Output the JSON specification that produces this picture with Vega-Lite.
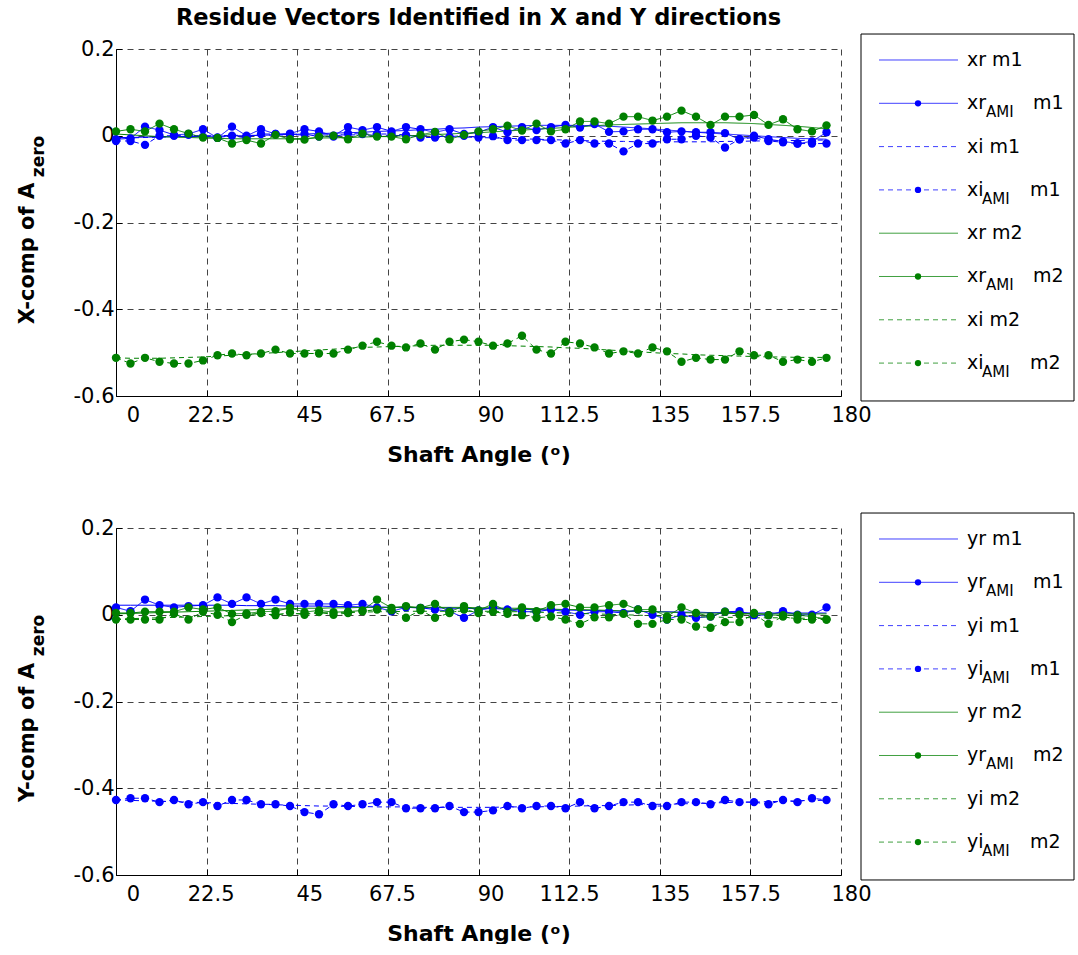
{
  "$schema": "https://vega.github.io/schema/vega-lite/v6.json",
  "background": "white",
  "padding": {"left": 16, "top": 6, "right": 0, "bottom": 0},
  "config": {
    "font": "DejaVu Sans",
    "view": {"stroke": null},
    "axis": {"labelFont": "DejaVu Sans", "labelFontSize": 21, "labelColor": "black", "titleFont": "DejaVu Sans", "titleFontSize": 22, "titleFontWeight": "bold", "titleColor": "black", "domainColor": "black", "domainWidth": 1, "tickColor": "black", "gridColor": "#444444", "gridDash": [6, 5], "gridOpacity": 1, "gridWidth": 1}
  },
  "datasets": {
    "top": [
      {"x":0,"r1":-0.004,"rA1":-0.008,"i1":-0.006,"iA1":-0.012,"r2":0.004,"rA2":0.010,"i2":-0.512,"iA2":-0.512},
      {"x":3.6,"r1":-0.004,"rA1":-0.006,"i1":-0.005,"iA1":-0.012,"r2":0.002,"rA2":0.015,"i2":-0.513,"iA2":-0.525},
      {"x":7.2,"r1":-0.003,"rA1":0.021,"i1":-0.004,"iA1":-0.021,"r2":0.000,"rA2":0.010,"i2":-0.513,"iA2":-0.512},
      {"x":10.8,"r1":-0.003,"rA1":0.013,"i1":-0.003,"iA1":0.000,"r2":-0.002,"rA2":0.028,"i2":-0.513,"iA2":-0.521},
      {"x":14.4,"r1":-0.002,"rA1":0.002,"i1":-0.002,"iA1":0.000,"r2":-0.003,"rA2":0.015,"i2":-0.512,"iA2":-0.525},
      {"x":18,"r1":-0.002,"rA1":0.004,"i1":-0.001,"iA1":0.002,"r2":-0.004,"rA2":0.005,"i2":-0.511,"iA2":-0.525},
      {"x":21.6,"r1":-0.001,"rA1":0.015,"i1":0.000,"iA1":-0.002,"r2":-0.005,"rA2":-0.004,"i2":-0.510,"iA2":-0.518},
      {"x":25.2,"r1":-0.001,"rA1":-0.005,"i1":0.000,"iA1":-0.004,"r2":-0.006,"rA2":-0.005,"i2":-0.508,"iA2":-0.506},
      {"x":28.8,"r1":0.000,"rA1":0.021,"i1":0.001,"iA1":0.000,"r2":-0.007,"rA2":-0.018,"i2":-0.506,"iA2":-0.502},
      {"x":32.4,"r1":0.000,"rA1":0.000,"i1":0.001,"iA1":-0.005,"r2":-0.007,"rA2":-0.010,"i2":-0.504,"iA2":-0.506},
      {"x":36,"r1":0.001,"rA1":0.015,"i1":0.001,"iA1":0.004,"r2":-0.007,"rA2":-0.018,"i2":-0.502,"iA2":-0.502},
      {"x":39.6,"r1":0.002,"rA1":0.004,"i1":0.002,"iA1":0.004,"r2":-0.007,"rA2":0.002,"i2":-0.500,"iA2":-0.493},
      {"x":43.2,"r1":0.003,"rA1":0.005,"i1":0.002,"iA1":0.003,"r2":-0.007,"rA2":-0.008,"i2":-0.498,"iA2":-0.502},
      {"x":46.8,"r1":0.004,"rA1":0.015,"i1":0.002,"iA1":0.004,"r2":-0.006,"rA2":-0.009,"i2":-0.496,"iA2":-0.502},
      {"x":50.4,"r1":0.005,"rA1":0.010,"i1":0.002,"iA1":-0.002,"r2":-0.005,"rA2":-0.002,"i2":-0.494,"iA2":-0.502},
      {"x":54,"r1":0.006,"rA1":0.000,"i1":0.002,"iA1":-0.002,"r2":-0.005,"rA2":0.000,"i2":-0.492,"iA2":-0.502},
      {"x":57.6,"r1":0.007,"rA1":0.020,"i1":0.002,"iA1":0.005,"r2":-0.004,"rA2":-0.008,"i2":-0.490,"iA2":-0.493},
      {"x":61.2,"r1":0.008,"rA1":0.013,"i1":0.002,"iA1":0.004,"r2":-0.003,"rA2":0.005,"i2":-0.488,"iA2":-0.484},
      {"x":64.8,"r1":0.010,"rA1":0.020,"i1":0.001,"iA1":0.004,"r2":-0.002,"rA2":-0.002,"i2":-0.487,"iA2":-0.475},
      {"x":68.4,"r1":0.011,"rA1":0.010,"i1":0.001,"iA1":0.004,"r2":-0.001,"rA2":-0.002,"i2":-0.486,"iA2":-0.484},
      {"x":72,"r1":0.012,"rA1":0.020,"i1":0.000,"iA1":0.002,"r2":0.000,"rA2":-0.008,"i2":-0.485,"iA2":-0.488},
      {"x":75.6,"r1":0.014,"rA1":0.015,"i1":0.000,"iA1":-0.004,"r2":0.001,"rA2":0.002,"i2":-0.484,"iA2":-0.479},
      {"x":79.2,"r1":0.015,"rA1":0.008,"i1":-0.001,"iA1":-0.004,"r2":0.003,"rA2":0.009,"i2":-0.483,"iA2":-0.493},
      {"x":82.8,"r1":0.017,"rA1":0.015,"i1":-0.002,"iA1":-0.002,"r2":0.004,"rA2":-0.008,"i2":-0.483,"iA2":-0.475},
      {"x":86.4,"r1":0.018,"rA1":0.004,"i1":-0.003,"iA1":0.000,"r2":0.006,"rA2":0.002,"i2":-0.483,"iA2":-0.470},
      {"x":90,"r1":0.020,"rA1":0.008,"i1":-0.004,"iA1":-0.004,"r2":0.007,"rA2":0.010,"i2":-0.483,"iA2":-0.475},
      {"x":93.6,"r1":0.021,"rA1":0.020,"i1":-0.005,"iA1":-0.001,"r2":0.009,"rA2":0.015,"i2":-0.483,"iA2":-0.484},
      {"x":97.2,"r1":0.022,"rA1":0.008,"i1":-0.006,"iA1":-0.010,"r2":0.011,"rA2":0.023,"i2":-0.484,"iA2":-0.479},
      {"x":100.8,"r1":0.023,"rA1":0.020,"i1":-0.007,"iA1":-0.010,"r2":0.013,"rA2":0.012,"i2":-0.485,"iA2":-0.461},
      {"x":104.4,"r1":0.024,"rA1":0.013,"i1":-0.008,"iA1":-0.010,"r2":0.015,"rA2":0.028,"i2":-0.486,"iA2":-0.493},
      {"x":108,"r1":0.024,"rA1":0.020,"i1":-0.009,"iA1":-0.010,"r2":0.017,"rA2":0.010,"i2":-0.487,"iA2":-0.502},
      {"x":111.6,"r1":0.024,"rA1":0.025,"i1":-0.010,"iA1":-0.018,"r2":0.019,"rA2":0.015,"i2":-0.489,"iA2":-0.475},
      {"x":115.2,"r1":0.024,"rA1":0.019,"i1":-0.011,"iA1":-0.010,"r2":0.021,"rA2":0.033,"i2":-0.490,"iA2":-0.479},
      {"x":118.8,"r1":0.023,"rA1":0.027,"i1":-0.012,"iA1":-0.018,"r2":0.023,"rA2":0.033,"i2":-0.492,"iA2":-0.488},
      {"x":122.4,"r1":0.022,"rA1":0.009,"i1":-0.013,"iA1":-0.018,"r2":0.025,"rA2":0.028,"i2":-0.494,"iA2":-0.502},
      {"x":126,"r1":0.020,"rA1":0.010,"i1":-0.013,"iA1":-0.036,"r2":0.026,"rA2":0.044,"i2":-0.496,"iA2":-0.497},
      {"x":129.6,"r1":0.018,"rA1":0.015,"i1":-0.014,"iA1":-0.018,"r2":0.027,"rA2":0.044,"i2":-0.498,"iA2":-0.502},
      {"x":133.2,"r1":0.016,"rA1":0.015,"i1":-0.014,"iA1":-0.018,"r2":0.028,"rA2":0.035,"i2":-0.500,"iA2":-0.488},
      {"x":136.8,"r1":0.013,"rA1":0.008,"i1":-0.014,"iA1":-0.008,"r2":0.029,"rA2":0.044,"i2":-0.502,"iA2":-0.497},
      {"x":140.4,"r1":0.011,"rA1":0.010,"i1":-0.014,"iA1":-0.008,"r2":0.030,"rA2":0.058,"i2":-0.503,"iA2":-0.521},
      {"x":144,"r1":0.008,"rA1":0.008,"i1":-0.014,"iA1":0.000,"r2":0.030,"rA2":0.044,"i2":-0.505,"iA2":-0.512},
      {"x":147.6,"r1":0.006,"rA1":0.008,"i1":-0.014,"iA1":-0.004,"r2":0.030,"rA2":0.025,"i2":-0.506,"iA2":-0.516},
      {"x":151.2,"r1":0.004,"rA1":0.006,"i1":-0.013,"iA1":-0.027,"r2":0.030,"rA2":0.044,"i2":-0.507,"iA2":-0.516},
      {"x":154.8,"r1":0.002,"rA1":-0.008,"i1":-0.013,"iA1":-0.008,"r2":0.029,"rA2":0.044,"i2":-0.508,"iA2":-0.497},
      {"x":158.4,"r1":0.000,"rA1":0.000,"i1":-0.012,"iA1":-0.004,"r2":0.028,"rA2":0.048,"i2":-0.509,"iA2":-0.506},
      {"x":162,"r1":-0.002,"rA1":-0.008,"i1":-0.012,"iA1":-0.012,"r2":0.026,"rA2":0.025,"i2":-0.510,"iA2":-0.506},
      {"x":165.6,"r1":-0.004,"rA1":-0.013,"i1":-0.011,"iA1":-0.015,"r2":0.024,"rA2":0.038,"i2":-0.510,"iA2":-0.521},
      {"x":169.2,"r1":-0.006,"rA1":-0.018,"i1":-0.011,"iA1":-0.018,"r2":0.022,"rA2":0.015,"i2":-0.511,"iA2":-0.516},
      {"x":172.8,"r1":-0.007,"rA1":-0.013,"i1":-0.010,"iA1":-0.018,"r2":0.019,"rA2":0.010,"i2":-0.511,"iA2":-0.521},
      {"x":176.4,"r1":-0.008,"rA1":0.008,"i1":-0.010,"iA1":-0.018,"r2":0.016,"rA2":0.024,"i2":-0.511,"iA2":-0.512}
    ],
    "bot": [
      {"x":0,"r1":0.022,"rA1":0.017,"i1":-0.427,"iA1":-0.427,"r2":0.002,"rA2":0.004,"i2":-0.010,"iA2":-0.011},
      {"x":3.6,"r1":0.022,"rA1":0.008,"i1":-0.428,"iA1":-0.423,"r2":0.003,"rA2":0.004,"i2":-0.009,"iA2":-0.011},
      {"x":7.2,"r1":0.022,"rA1":0.035,"i1":-0.429,"iA1":-0.423,"r2":0.004,"rA2":0.007,"i2":-0.008,"iA2":-0.011},
      {"x":10.8,"r1":0.022,"rA1":0.022,"i1":-0.430,"iA1":-0.432,"r2":0.005,"rA2":0.007,"i2":-0.007,"iA2":-0.011},
      {"x":14.4,"r1":0.022,"rA1":0.017,"i1":-0.431,"iA1":-0.427,"r2":0.006,"rA2":0.007,"i2":-0.006,"iA2":0.002},
      {"x":18,"r1":0.022,"rA1":0.020,"i1":-0.432,"iA1":-0.437,"r2":0.007,"rA2":0.017,"i2":-0.005,"iA2":-0.011},
      {"x":21.6,"r1":0.022,"rA1":0.022,"i1":-0.433,"iA1":-0.432,"r2":0.008,"rA2":0.012,"i2":-0.004,"iA2":0.007},
      {"x":25.2,"r1":0.022,"rA1":0.040,"i1":-0.434,"iA1":-0.441,"r2":0.009,"rA2":0.017,"i2":-0.003,"iA2":0.000},
      {"x":28.8,"r1":0.022,"rA1":0.025,"i1":-0.435,"iA1":-0.427,"r2":0.010,"rA2":0.002,"i2":-0.002,"iA2":-0.017},
      {"x":32.4,"r1":0.021,"rA1":0.040,"i1":-0.436,"iA1":-0.427,"r2":0.011,"rA2":0.003,"i2":-0.001,"iA2":0.000},
      {"x":36,"r1":0.021,"rA1":0.025,"i1":-0.437,"iA1":-0.437,"r2":0.012,"rA2":0.007,"i2":0.000,"iA2":0.004},
      {"x":39.6,"r1":0.021,"rA1":0.035,"i1":-0.438,"iA1":-0.437,"r2":0.013,"rA2":0.008,"i2":0.001,"iA2":-0.001},
      {"x":43.2,"r1":0.020,"rA1":0.025,"i1":-0.439,"iA1":-0.441,"r2":0.014,"rA2":0.016,"i2":0.002,"iA2":0.005},
      {"x":46.8,"r1":0.020,"rA1":0.025,"i1":-0.440,"iA1":-0.455,"r2":0.015,"rA2":0.006,"i2":0.003,"iA2":0.000},
      {"x":50.4,"r1":0.020,"rA1":0.025,"i1":-0.441,"iA1":-0.460,"r2":0.015,"rA2":0.010,"i2":0.004,"iA2":0.006},
      {"x":54,"r1":0.019,"rA1":0.025,"i1":-0.441,"iA1":-0.437,"r2":0.016,"rA2":0.006,"i2":0.005,"iA2":0.000},
      {"x":57.6,"r1":0.019,"rA1":0.022,"i1":-0.442,"iA1":-0.441,"r2":0.016,"rA2":0.007,"i2":0.006,"iA2":0.004},
      {"x":61.2,"r1":0.018,"rA1":0.025,"i1":-0.442,"iA1":-0.437,"r2":0.017,"rA2":0.010,"i2":0.006,"iA2":0.008},
      {"x":64.8,"r1":0.018,"rA1":0.017,"i1":-0.443,"iA1":-0.432,"r2":0.017,"rA2":0.035,"i2":0.007,"iA2":0.012},
      {"x":68.4,"r1":0.017,"rA1":0.008,"i1":-0.443,"iA1":-0.432,"r2":0.017,"rA2":0.016,"i2":0.007,"iA2":0.010},
      {"x":72,"r1":0.017,"rA1":0.017,"i1":-0.443,"iA1":-0.446,"r2":0.017,"rA2":0.020,"i2":0.008,"iA2":-0.007},
      {"x":75.6,"r1":0.016,"rA1":0.016,"i1":-0.444,"iA1":-0.446,"r2":0.017,"rA2":0.016,"i2":0.008,"iA2":0.010},
      {"x":79.2,"r1":0.016,"rA1":0.012,"i1":-0.444,"iA1":-0.446,"r2":0.017,"rA2":0.025,"i2":0.008,"iA2":-0.007},
      {"x":82.8,"r1":0.015,"rA1":0.008,"i1":-0.444,"iA1":-0.441,"r2":0.017,"rA2":0.007,"i2":0.008,"iA2":0.004},
      {"x":86.4,"r1":0.015,"rA1":-0.007,"i1":-0.444,"iA1":-0.455,"r2":0.017,"rA2":0.020,"i2":0.008,"iA2":0.012},
      {"x":90,"r1":0.014,"rA1":0.010,"i1":-0.444,"iA1":-0.455,"r2":0.016,"rA2":0.010,"i2":0.008,"iA2":0.004},
      {"x":93.6,"r1":0.014,"rA1":0.017,"i1":-0.444,"iA1":-0.451,"r2":0.016,"rA2":0.025,"i2":0.008,"iA2":0.007},
      {"x":97.2,"r1":0.013,"rA1":0.012,"i1":-0.443,"iA1":-0.441,"r2":0.015,"rA2":0.007,"i2":0.007,"iA2":0.002},
      {"x":100.8,"r1":0.012,"rA1":0.007,"i1":-0.443,"iA1":-0.446,"r2":0.015,"rA2":0.017,"i2":0.007,"iA2":-0.001},
      {"x":104.4,"r1":0.012,"rA1":0.007,"i1":-0.443,"iA1":-0.441,"r2":0.014,"rA2":0.008,"i2":0.006,"iA2":-0.007},
      {"x":108,"r1":0.011,"rA1":0.012,"i1":-0.442,"iA1":-0.441,"r2":0.013,"rA2":0.022,"i2":0.005,"iA2":-0.004},
      {"x":111.6,"r1":0.011,"rA1":0.007,"i1":-0.442,"iA1":-0.446,"r2":0.012,"rA2":0.025,"i2":0.004,"iA2":-0.011},
      {"x":115.2,"r1":0.010,"rA1":0.000,"i1":-0.441,"iA1":-0.432,"r2":0.012,"rA2":0.017,"i2":0.003,"iA2":-0.021},
      {"x":118.8,"r1":0.010,"rA1":0.007,"i1":-0.440,"iA1":-0.446,"r2":0.011,"rA2":0.017,"i2":0.002,"iA2":-0.006},
      {"x":122.4,"r1":0.009,"rA1":0.007,"i1":-0.440,"iA1":-0.441,"r2":0.010,"rA2":0.022,"i2":0.001,"iA2":-0.006},
      {"x":126,"r1":0.008,"rA1":0.004,"i1":-0.439,"iA1":-0.432,"r2":0.009,"rA2":0.025,"i2":0.000,"iA2":0.002},
      {"x":129.6,"r1":0.008,"rA1":0.012,"i1":-0.438,"iA1":-0.432,"r2":0.008,"rA2":0.012,"i2":-0.001,"iA2":-0.021},
      {"x":133.2,"r1":0.007,"rA1":0.000,"i1":-0.437,"iA1":-0.441,"r2":0.007,"rA2":0.012,"i2":-0.002,"iA2":-0.021},
      {"x":136.8,"r1":0.007,"rA1":-0.011,"i1":-0.437,"iA1":-0.441,"r2":0.006,"rA2":-0.004,"i2":-0.003,"iA2":-0.011},
      {"x":140.4,"r1":0.006,"rA1":0.000,"i1":-0.436,"iA1":-0.432,"r2":0.005,"rA2":0.017,"i2":-0.004,"iA2":-0.011},
      {"x":144,"r1":0.006,"rA1":-0.007,"i1":-0.435,"iA1":-0.432,"r2":0.004,"rA2":0.004,"i2":-0.005,"iA2":-0.027},
      {"x":147.6,"r1":0.005,"rA1":-0.004,"i1":-0.434,"iA1":-0.437,"r2":0.004,"rA2":-0.004,"i2":-0.005,"iA2":-0.030},
      {"x":151.2,"r1":0.005,"rA1":0.007,"i1":-0.433,"iA1":-0.427,"r2":0.003,"rA2":0.007,"i2":-0.006,"iA2":-0.017},
      {"x":154.8,"r1":0.005,"rA1":0.008,"i1":-0.432,"iA1":-0.432,"r2":0.003,"rA2":0.000,"i2":-0.006,"iA2":-0.017},
      {"x":158.4,"r1":0.004,"rA1":-0.001,"i1":-0.432,"iA1":-0.432,"r2":0.002,"rA2":0.004,"i2":-0.007,"iA2":0.002},
      {"x":162,"r1":0.004,"rA1":-0.001,"i1":-0.431,"iA1":-0.437,"r2":0.002,"rA2":-0.001,"i2":-0.007,"iA2":-0.021},
      {"x":165.6,"r1":0.004,"rA1":0.008,"i1":-0.430,"iA1":-0.427,"r2":0.002,"rA2":-0.001,"i2":-0.007,"iA2":-0.004},
      {"x":169.2,"r1":0.004,"rA1":0.000,"i1":-0.429,"iA1":-0.432,"r2":0.002,"rA2":-0.001,"i2":-0.008,"iA2":-0.011},
      {"x":172.8,"r1":0.004,"rA1":0.000,"i1":-0.428,"iA1":-0.423,"r2":0.002,"rA2":-0.004,"i2":-0.008,"iA2":-0.011},
      {"x":176.4,"r1":0.004,"rA1":0.017,"i1":-0.428,"iA1":-0.427,"r2":0.002,"rA2":-0.011,"i2":-0.008,"iA2":-0.011}
    ],
    "legTop": [
      {"k":0,"key":"r1","base":"xr m1","sub":"","suf":""},
      {"k":1,"key":"rA1","base":"xr","sub":"AMI","suf":"m1"},
      {"k":2,"key":"i1","base":"xi m1","sub":"","suf":""},
      {"k":3,"key":"iA1","base":"xi","sub":"AMI","suf":"m1"},
      {"k":4,"key":"r2","base":"xr m2","sub":"","suf":""},
      {"k":5,"key":"rA2","base":"xr","sub":"AMI","suf":"m2"},
      {"k":6,"key":"i2","base":"xi m2","sub":"","suf":""},
      {"k":7,"key":"iA2","base":"xi","sub":"AMI","suf":"m2"}
    ],
    "legBot": [
      {"k":0,"key":"r1","base":"yr m1","sub":"","suf":""},
      {"k":1,"key":"rA1","base":"yr","sub":"AMI","suf":"m1"},
      {"k":2,"key":"i1","base":"yi m1","sub":"","suf":""},
      {"k":3,"key":"iA1","base":"yi","sub":"AMI","suf":"m1"},
      {"k":4,"key":"r2","base":"yr m2","sub":"","suf":""},
      {"k":5,"key":"rA2","base":"yr","sub":"AMI","suf":"m2"},
      {"k":6,"key":"i2","base":"yi m2","sub":"","suf":""},
      {"k":7,"key":"iA2","base":"yi","sub":"AMI","suf":"m2"}
    ]
  },
  "spacing": 47,
  "vconcat": [
    {
      "hconcat": [
        {
          "width": 725, "height": 347,
          "title": {"text": "Residue Vectors Identified in X and Y directions", "font": "DejaVu Sans", "fontSize": 22.5, "fontWeight": "bold", "color": "black", "offset": 9, "anchor": "middle"},
          "data": {"name": "top"},
          "transform": [{"fold": ["r1","rA1","i1","iA1","r2","rA2","i2","iA2"], "as": ["key","val"]}],
          "layer": [
            {
              "mark": {"type": "line", "strokeWidth": 1},
              "encoding": {
                "x": {"field": "x", "type": "quantitative", "scale": {"domain": [0, 180], "nice": false, "zero": false},
                      "axis": {"values": [0,22.5,45,67.5,90,112.5,135,157.5,180], "labelExpr": "toString(datum.value)", "title": "Shaft Angle (ᵒ)", "grid": true, "tickSize": -6, "labelPadding": 14, "titlePadding": 19, "labelFlush": false, "labelOverlap": false,
                               "labelOffset": {"condition": [{"test": "datum.value == 0", "value": 17}, {"test": "datum.value == 45 || datum.value == 90", "value": 12}, {"test": "datum.value == 135 || datum.value == 180", "value": 10}, {"test": "datum.value == 22.5 || datum.value == 67.5", "value": 4}], "value": 0}}},
                "y": {"field": "val", "type": "quantitative", "scale": {"domain": [-0.6, 0.2], "nice": false, "zero": false},
                      "axis": {"values": [-0.6,-0.4,-0.2,0,0.2], "labelExpr": "datum.value == 0 ? '0' : toString(round(datum.value*10)/10)", "title": "X-comp of A", "titleFontSize": 21, "titleX": -89, "titleY": 204, "titleAngle": 270, "titleAlign": "center", "titleBaseline": "middle", "grid": true, "tickSize": -6, "labelPadding": 8}},
                "color": {"field": "key", "type": "nominal", "scale": {"domain": ["r1","rA1","i1","iA1","r2","rA2","i2","iA2"], "range": ["#0000ff","#0000ff","#0000ff","#0000ff","#008000","#008000","#008000","#008000"]}, "legend": null},
                "strokeDash": {"field": "key", "type": "nominal", "scale": {"domain": ["r1","rA1","i1","iA1","r2","rA2","i2","iA2"], "range": [[1,0],[1,0],[5,4],[5,4],[1,0],[1,0],[5,4],[5,4]]}, "legend": null}
              }
            },
            {
              "transform": [{"filter": {"field": "key", "oneOf": ["rA1","iA1","rA2","iA2"]}}],
              "mark": {"type": "point", "filled": true, "opacity": 1, "size": 70},
              "encoding": {
                "x": {"field": "x", "type": "quantitative"},
                "y": {"field": "val", "type": "quantitative",
                      "axis": {"orient": "left", "title": "zero", "titleFontSize": 17, "titleX": -78, "titleY": 107, "titleAngle": 270, "titleAlign": "center", "titleBaseline": "middle", "labels": false, "ticks": false, "domain": false, "grid": false}},
                "color": {"field": "key", "type": "nominal", "legend": null}
              }
            }
          ],
          "resolve": {"axis": {"y": "independent"}}
        },
        {
          "width": 213, "height": 347,
          "layer": [
            {
              "data": {"values": [{}]},
              "mark": {"type": "rect", "fill": "white", "stroke": "black", "strokeWidth": 1},
              "encoding": {
                "x": {"datum": 0, "type": "quantitative", "scale": {"domain": [0, 213], "nice": false, "zero": false}, "axis": null},
                "x2": {"datum": 213},
                "y": {"datum": -0.6, "type": "quantitative", "scale": {"domain": [-0.254, 7.76], "nice": false, "zero": false, "reverse": true}, "axis": null},
                "y2": {"datum": 7.875}
              }
            },
            {
              "data": {"name": "legTop"},
              "mark": {"type": "rule", "strokeWidth": 1, "opacity": 0.75},
              "encoding": {
                "x": {"datum": 18, "type": "quantitative"}, "x2": {"datum": 97},
                "y": {"field": "k", "type": "quantitative"},
                "color": {"field": "key", "type": "nominal", "legend": null},
                "strokeDash": {"field": "key", "type": "nominal", "legend": null}
              }
            },
            {
              "data": {"name": "legTop"},
              "transform": [{"filter": "datum.sub != ''"}],
              "mark": {"type": "point", "filled": true, "opacity": 1, "size": 40},
              "encoding": {
                "x": {"datum": 57, "type": "quantitative"},
                "y": {"field": "k", "type": "quantitative"},
                "color": {"field": "key", "type": "nominal", "legend": null}
              }
            },
            {
              "data": {"name": "legTop"},
              "mark": {"type": "text", "align": "left", "baseline": "middle", "fontSize": 19, "color": "black", "font": "DejaVu Sans"},
              "encoding": {"x": {"datum": 106, "type": "quantitative"}, "y": {"field": "k", "type": "quantitative"}, "text": {"field": "base"}}
            },
            {
              "data": {"name": "legTop"},
              "transform": [{"filter": {"field": "key", "oneOf": ["rA1","rA2"]}}],
              "mark": {"type": "text", "align": "left", "baseline": "middle", "fontSize": 15, "dy": 9, "color": "black", "font": "DejaVu Sans"},
              "encoding": {"x": {"datum": 125, "type": "quantitative"}, "y": {"field": "k", "type": "quantitative"}, "text": {"field": "sub"}}
            },
            {
              "data": {"name": "legTop"},
              "transform": [{"filter": {"field": "key", "oneOf": ["iA1","iA2"]}}],
              "mark": {"type": "text", "align": "left", "baseline": "middle", "fontSize": 15, "dy": 9, "color": "black", "font": "DejaVu Sans"},
              "encoding": {"x": {"datum": 121, "type": "quantitative"}, "y": {"field": "k", "type": "quantitative"}, "text": {"field": "sub"}}
            },
            {
              "data": {"name": "legTop"},
              "transform": [{"filter": {"field": "key", "oneOf": ["rA1","rA2"]}}],
              "mark": {"type": "text", "align": "left", "baseline": "middle", "fontSize": 19, "color": "black", "font": "DejaVu Sans"},
              "encoding": {"x": {"datum": 172, "type": "quantitative"}, "y": {"field": "k", "type": "quantitative"}, "text": {"field": "suf"}}
            },
            {
              "data": {"name": "legTop"},
              "transform": [{"filter": {"field": "key", "oneOf": ["iA1","iA2"]}}],
              "mark": {"type": "text", "align": "left", "baseline": "middle", "fontSize": 19, "color": "black", "font": "DejaVu Sans"},
              "encoding": {"x": {"datum": 169, "type": "quantitative"}, "y": {"field": "k", "type": "quantitative"}, "text": {"field": "suf"}}
            }
          ]
        }
      ],
      "spacing": 20,
      "bounds": "flush"
    },
    {
      "hconcat": [
        {
          "width": 725, "height": 347,
          "data": {"name": "bot"},
          "transform": [{"fold": ["r1","rA1","i1","iA1","r2","rA2","i2","iA2"], "as": ["key","val"]}],
          "layer": [
            {
              "mark": {"type": "line", "strokeWidth": 1},
              "encoding": {
                "x": {"field": "x", "type": "quantitative", "scale": {"domain": [0, 180], "nice": false, "zero": false},
                      "axis": {"values": [0,22.5,45,67.5,90,112.5,135,157.5,180], "labelExpr": "toString(datum.value)", "title": "Shaft Angle (ᵒ)", "grid": true, "tickSize": -6, "labelPadding": 14, "titlePadding": 19, "labelFlush": false, "labelOverlap": false,
                               "labelOffset": {"condition": [{"test": "datum.value == 0", "value": 17}, {"test": "datum.value == 45 || datum.value == 90", "value": 12}, {"test": "datum.value == 135 || datum.value == 180", "value": 10}, {"test": "datum.value == 22.5 || datum.value == 67.5", "value": 4}], "value": 0}}},
                "y": {"field": "val", "type": "quantitative", "scale": {"domain": [-0.6, 0.2], "nice": false, "zero": false},
                      "axis": {"values": [-0.6,-0.4,-0.2,0,0.2], "labelExpr": "datum.value == 0 ? '0' : toString(round(datum.value*10)/10)", "title": "Y-comp of A", "titleFontSize": 21, "titleX": -89, "titleY": 204, "titleAngle": 270, "titleAlign": "center", "titleBaseline": "middle", "grid": true, "tickSize": -6, "labelPadding": 8}},
                "color": {"field": "key", "type": "nominal", "scale": {"domain": ["r1","rA1","i1","iA1","r2","rA2","i2","iA2"], "range": ["#0000ff","#0000ff","#0000ff","#0000ff","#008000","#008000","#008000","#008000"]}, "legend": null},
                "strokeDash": {"field": "key", "type": "nominal", "scale": {"domain": ["r1","rA1","i1","iA1","r2","rA2","i2","iA2"], "range": [[1,0],[1,0],[5,4],[5,4],[1,0],[1,0],[5,4],[5,4]]}, "legend": null}
              }
            },
            {
              "transform": [{"filter": {"field": "key", "oneOf": ["rA1","iA1","rA2","iA2"]}}],
              "mark": {"type": "point", "filled": true, "opacity": 1, "size": 70},
              "encoding": {
                "x": {"field": "x", "type": "quantitative"},
                "y": {"field": "val", "type": "quantitative",
                      "axis": {"orient": "left", "title": "zero", "titleFontSize": 17, "titleX": -78, "titleY": 107, "titleAngle": 270, "titleAlign": "center", "titleBaseline": "middle", "labels": false, "ticks": false, "domain": false, "grid": false}},
                "color": {"field": "key", "type": "nominal", "legend": null}
              }
            }
          ],
          "resolve": {"axis": {"y": "independent"}}
        },
        {
          "width": 213, "height": 347,
          "layer": [
            {
              "data": {"values": [{}]},
              "mark": {"type": "rect", "fill": "white", "stroke": "black", "strokeWidth": 1},
              "encoding": {
                "x": {"datum": 0, "type": "quantitative", "scale": {"domain": [0, 213], "nice": false, "zero": false}, "axis": null},
                "x2": {"datum": 213},
                "y": {"datum": -0.6, "type": "quantitative", "scale": {"domain": [-0.254, 7.76], "nice": false, "zero": false, "reverse": true}, "axis": null},
                "y2": {"datum": 7.875}
              }
            },
            {
              "data": {"name": "legBot"},
              "mark": {"type": "rule", "strokeWidth": 1, "opacity": 0.75},
              "encoding": {
                "x": {"datum": 18, "type": "quantitative"}, "x2": {"datum": 97},
                "y": {"field": "k", "type": "quantitative"},
                "color": {"field": "key", "type": "nominal", "legend": null},
                "strokeDash": {"field": "key", "type": "nominal", "legend": null}
              }
            },
            {
              "data": {"name": "legBot"},
              "transform": [{"filter": "datum.sub != ''"}],
              "mark": {"type": "point", "filled": true, "opacity": 1, "size": 40},
              "encoding": {
                "x": {"datum": 57, "type": "quantitative"},
                "y": {"field": "k", "type": "quantitative"},
                "color": {"field": "key", "type": "nominal", "legend": null}
              }
            },
            {
              "data": {"name": "legBot"},
              "mark": {"type": "text", "align": "left", "baseline": "middle", "fontSize": 19, "color": "black", "font": "DejaVu Sans"},
              "encoding": {"x": {"datum": 106, "type": "quantitative"}, "y": {"field": "k", "type": "quantitative"}, "text": {"field": "base"}}
            },
            {
              "data": {"name": "legBot"},
              "transform": [{"filter": {"field": "key", "oneOf": ["rA1","rA2"]}}],
              "mark": {"type": "text", "align": "left", "baseline": "middle", "fontSize": 15, "dy": 9, "color": "black", "font": "DejaVu Sans"},
              "encoding": {"x": {"datum": 125, "type": "quantitative"}, "y": {"field": "k", "type": "quantitative"}, "text": {"field": "sub"}}
            },
            {
              "data": {"name": "legBot"},
              "transform": [{"filter": {"field": "key", "oneOf": ["iA1","iA2"]}}],
              "mark": {"type": "text", "align": "left", "baseline": "middle", "fontSize": 15, "dy": 9, "color": "black", "font": "DejaVu Sans"},
              "encoding": {"x": {"datum": 121, "type": "quantitative"}, "y": {"field": "k", "type": "quantitative"}, "text": {"field": "sub"}}
            },
            {
              "data": {"name": "legBot"},
              "transform": [{"filter": {"field": "key", "oneOf": ["rA1","rA2"]}}],
              "mark": {"type": "text", "align": "left", "baseline": "middle", "fontSize": 19, "color": "black", "font": "DejaVu Sans"},
              "encoding": {"x": {"datum": 172, "type": "quantitative"}, "y": {"field": "k", "type": "quantitative"}, "text": {"field": "suf"}}
            },
            {
              "data": {"name": "legBot"},
              "transform": [{"filter": {"field": "key", "oneOf": ["iA1","iA2"]}}],
              "mark": {"type": "text", "align": "left", "baseline": "middle", "fontSize": 19, "color": "black", "font": "DejaVu Sans"},
              "encoding": {"x": {"datum": 169, "type": "quantitative"}, "y": {"field": "k", "type": "quantitative"}, "text": {"field": "suf"}}
            }
          ]
        }
      ],
      "spacing": 20,
      "bounds": "flush"
    }
  ]
}
